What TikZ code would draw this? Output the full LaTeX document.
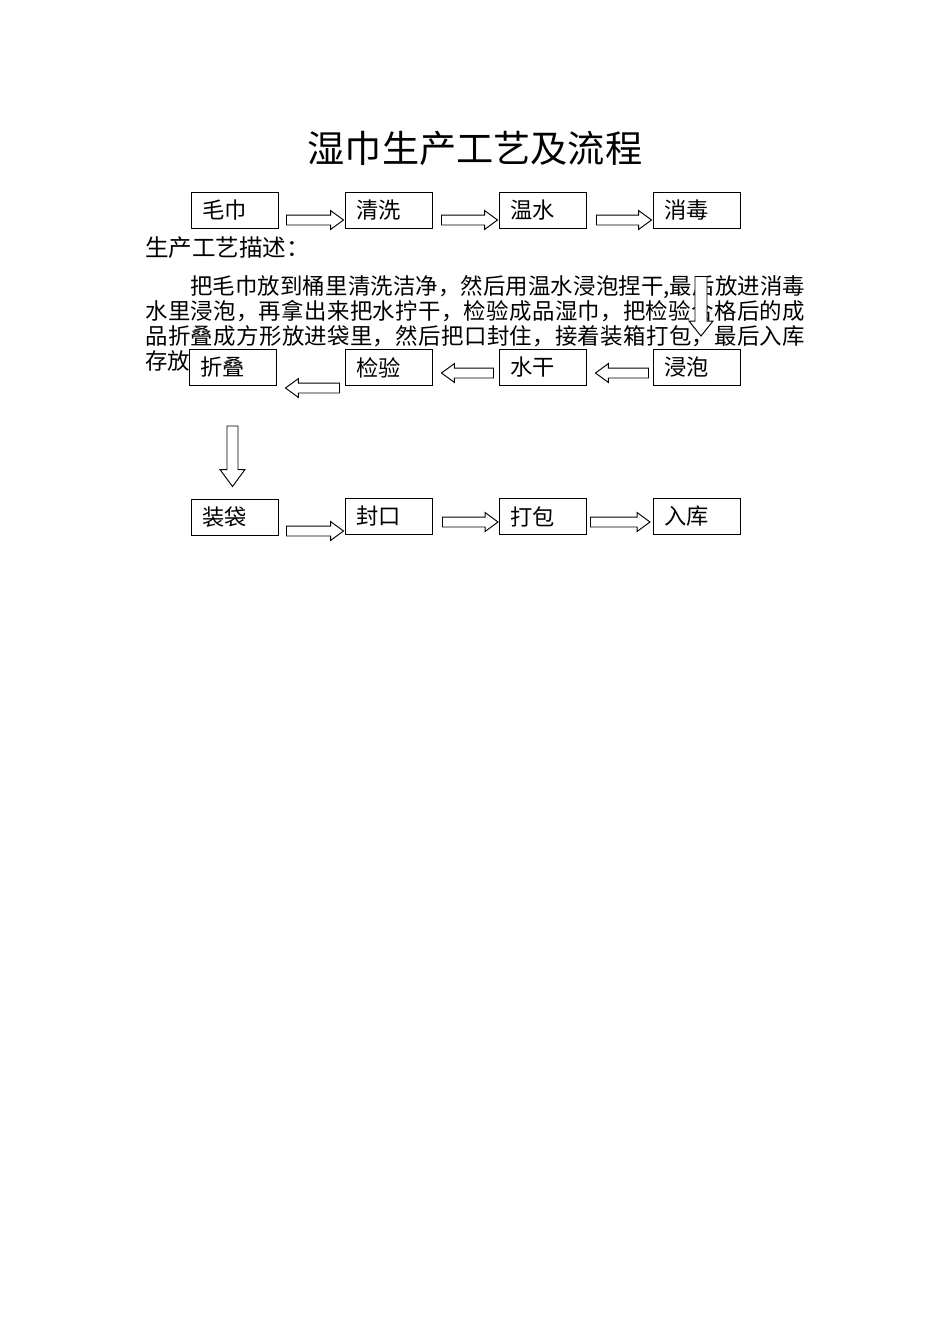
\documentclass[tikz,border=0pt]{standalone}
\usepackage{fontspec}
\setmainfont{Noto Sans CJK SC}
\XeTeXlinebreaklocale "zh"
\XeTeXlinebreakskip = 0pt plus 1pt minus 0.5pt
\usetikzlibrary{calc}

\tikzset{
  procbox/.style={draw, line width=0.6pt, fill=white, minimum width=19.24mm,
    minimum height=7.96mm, text width=14.24mm, inner xsep=2.5mm, inner ysep=0pt,
    align=left, font=\fontsize{14}{16}\selectfont},
  block line/.style={draw, line width=0.6pt, fill=white, line join=miter},
  arrow body/.store in=\arrbody, arrow body=1.1mm,
  arrow head/.store in=\arrhead, arrow head=2.1mm,
  arrow tip/.store in=\arrtip, arrow tip=2.87mm,
}

% hollow block arrow from #2 to #3
\newcommand{\blockarrow}[3][]{%
  \begin{scope}[#1]
    \coordinate (ba-s) at (#2);
    \coordinate (ba-e) at (#3);
    \coordinate (ba-n) at ($(ba-e)!\arrtip!(ba-s)$);
    \path[block line] ($(ba-s)!\arrbody!90:(ba-e)$) -- ($(ba-n)!\arrbody!90:(ba-e)$)
      -- ($(ba-n)!\arrhead!90:(ba-e)$) -- (ba-e) -- ($(ba-n)!\arrhead!-90:(ba-e)$)
      -- ($(ba-n)!\arrbody!-90:(ba-e)$) -- ($(ba-s)!\arrbody!-90:(ba-e)$) -- cycle;
  \end{scope}}

\begin{document}
\begin{tikzpicture}[x=0.2211mm, y=-0.2211mm]
  \path[fill=white] (0,0) rectangle (950,1344);
  \useasboundingbox (0,0) rectangle (950,1344);

  % titre et description
  \node[font=\fontsize{23.4}{28}\selectfont] (title) at (475,148) {湿巾生产工艺及流程};
  \node[anchor=west, inner sep=0pt, font=\fontsize{14.8}{18}\selectfont] (desclabel) at (145,248) {生产工艺描述：};
  \node[anchor=north west, inner sep=0pt, text width=145.9mm, align=justify,
    font=\fontsize{14.1}{15.72}\selectfont] (desc) at (145,275) {\parindent=0pt\hspace*{2em}把毛巾放到桶里清洗洁净，然后用温水浸泡捏干,最后放进消毒\linebreak 水里浸泡，再拿出来把水拧干，检验成品湿巾，把检验合格后的成\linebreak 品折叠成方形放进袋里，然后把口封住，接着装箱打包，最后入库\linebreak 存放};

  % premiere ligne
  \node[procbox] (maojin) at (234.5,210) {毛巾};
  \node[procbox] (qingxi) at (388.5,210) {清洗};
  \node[procbox] (wenshui) at (542.5,210) {温水};
  \node[procbox] (xiaodu) at (696.5,210) {消毒};

  % deuxieme ligne
  \node[procbox] (zhedie) at (232.5,367.5) {折叠};
  \node[procbox] (jianyan) at (388.5,367.5) {检验};
  \node[procbox] (shuigan) at (542.5,367.5) {水干};
  \node[procbox] (jinpao) at (696.5,367.5) {浸泡};

  % troisieme ligne
  \node[procbox] (zhuangdai) at (234.5,517) {装袋};
  \node[procbox] (fengkou) at (388.5,516) {封口};
  \node[procbox] (dabao) at (542.5,516.5) {打包};
  \node[procbox] (ruku) at (696.5,516.5) {入库};

  % fleches
  \blockarrow{$(maojin.east)+(8,10)$}{$(qingxi.west)+(-1,10)$}
  \blockarrow{$(qingxi.east)+(9,10)$}{$(wenshui.west)+(-1,10)$}
  \blockarrow{$(wenshui.east)+(10,10)$}{$(xiaodu.west)+(-1,10)$}
  \blockarrow[arrow body=1.33mm, arrow head=2.65mm, arrow tip=3.3mm]{$(xiaodu.south)+(4.5,48)$}{$(jinpao.north)+(4.5,-13)$}
  \blockarrow{$(jinpao.west)+(-4,5.5)$}{$(shuigan.east)+(9,5.5)$}
  \blockarrow{$(shuigan.west)+(-5,5.5)$}{$(jianyan.east)+(9,5.5)$}
  \blockarrow{$(jianyan.west)+(-5,20.5)$}{$(zhedie.east)+(9,20.5)$}
  \blockarrow[arrow body=1.22mm, arrow head=2.76mm, arrow tip=3.76mm]{$(zhedie.south)+(0,40)$}{$(zhedie.south |- zhuangdai.north)+(0,-12)$}
  \blockarrow{$(zhuangdai.east)+(8,14)$}{$(fengkou.west)+(-1,15)$}
  \blockarrow{$(fengkou.east)+(10,6)$}{$(dabao.west)+(-0.5,5.5)$}
  \blockarrow{$(dabao.east)+(4,5.5)$}{$(ruku.west)+(-2.5,5.5)$}
\end{tikzpicture}
\end{document}
